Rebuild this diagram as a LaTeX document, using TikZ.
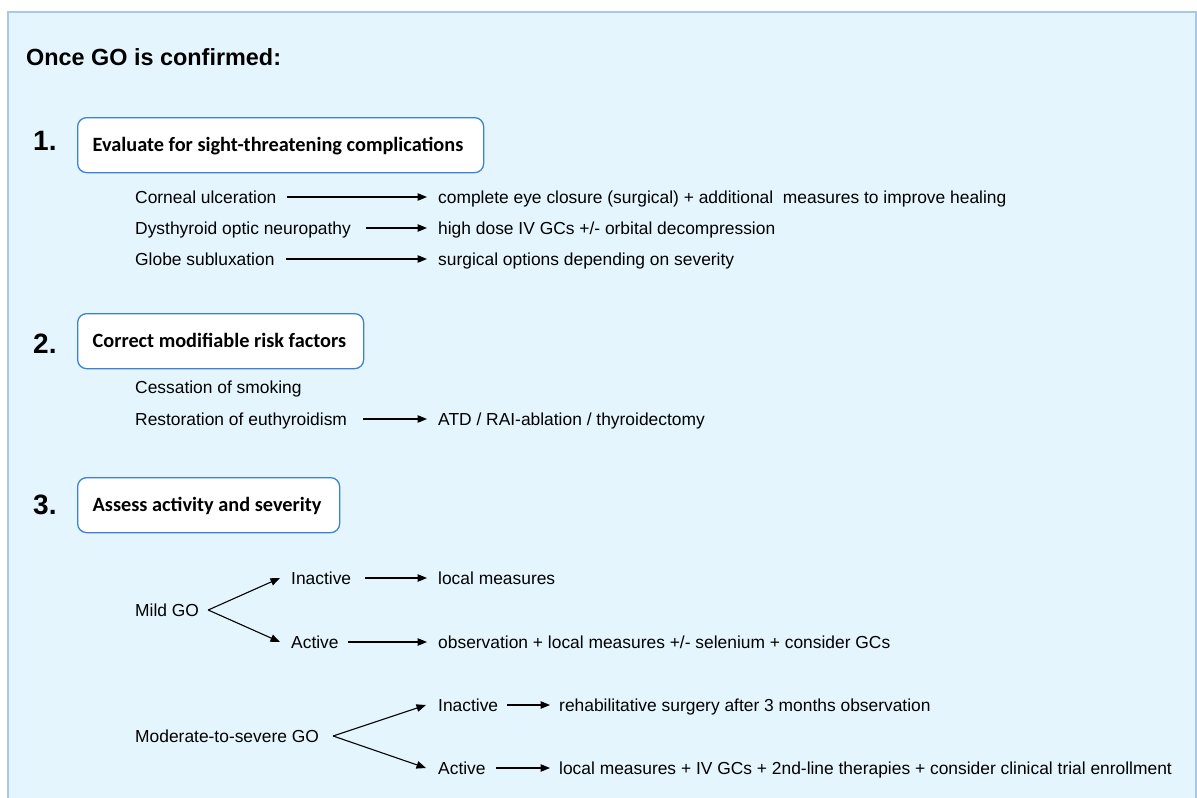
\documentclass[tikz,border=0pt]{standalone}
\usepackage{fontspec}
\setmainfont{Liberation Sans}
\newfontfamily\boxfont{Carlito}
\usetikzlibrary{arrows.meta}
\definecolor{framefill}{HTML}{E5F5FE}
\definecolor{frameline}{HTML}{A8C8EA}
\definecolor{boxline}{HTML}{3B82D4}
\begin{document}
\begin{tikzpicture}[x=1pt,y=-1pt,
  txt/.style={anchor=west,inner sep=0pt,font=\fontsize{17.4}{20}\selectfont,text height=12.5pt,text depth=0pt},
  numlbl/.style={anchor=west,inner sep=0pt,font=\bfseries\fontsize{28}{32}\selectfont,text height=20pt,text depth=0pt},
  stepbox/.style={draw=boxline,line width=1.3pt,fill=white,rounded corners=9pt,minimum height=55pt,anchor=north west,inner xsep=15pt,inner ysep=0pt,text height=13pt,text depth=0pt,font=\boxfont\bfseries\fontsize{20.3}{24}\selectfont},
  arr/.style={-{Triangle[length=9.5pt,width=7.5pt]},line width=1.1pt,black}]
\useasboundingbox (0,0) rectangle (1197,798);
\clip (0,0) rectangle (1197,798);
\fill[white] (0,0) rectangle (1197,798);
\draw[fill=framefill,draw=frameline,line width=2pt] (8,12) rectangle (1196,820);

\node[anchor=base west,inner sep=0pt,font=\bfseries\fontsize{23.4}{28}\selectfont] (title) at (26,65) {Once GO is confirmed:};

% Step 1
\node[numlbl] (n1) at (33,140) {1.};
\node[stepbox] (b1) at (77,117) {\makebox[376pt][l]{Evaluate for sight-threatening complications}};
\node[txt] (c1) at (135,197) {Corneal ulceration};
\node[txt] (r1) at (438,197) {complete eye closure (surgical) + additional\ \ measures to improve healing};
\node[txt] (c2) at (135,228) {Dysthyroid optic neuropathy};
\node[txt] (r2) at (438,228) {high dose IV GCs +/- orbital decompression};
\node[txt] (c3) at (135,259) {Globe subluxation};
\node[txt] (r3) at (438,259) {surgical options depending on severity};
\draw[arr] ([xshift=10pt]c1.east) -- ([xshift=-11pt]r1.west);
\draw[arr] ([xshift=15pt]c2.east) -- ([xshift=-11pt]r2.west);
\draw[arr] ([xshift=11pt]c3.east) -- ([xshift=-11pt]r3.west);

% Step 2
\node[numlbl] (n2) at (33,343) {2.};
\node[stepbox] (b2) at (77,313) {\makebox[256pt][l]{Correct modifiable risk factors}};
\node[txt] (d1) at (135,387) {Cessation of smoking};
\node[txt] (d2) at (135,419) {Restoration of euthyroidism};
\node[txt] (e2) at (438,419) {ATD / RAI-ablation / thyroidectomy};
\draw[arr] ([xshift=16pt]d2.east) -- ([xshift=-11pt]e2.west);

% Step 3
\node[numlbl] (n3) at (33,504) {3.};
\node[stepbox] (b3) at (77,477) {\makebox[232pt][l]{Assess activity and severity}};

\node[txt] (mild) at (135,610) {Mild GO};
\node[txt] (mi) at (291,578) {Inactive};
\node[txt] (ma) at (291,642) {Active};
\node[txt] (mir) at (438,578) {local measures};
\node[txt] (mar) at (438,642) {observation + local measures +/- selenium + consider GCs};
\draw[arr] ([xshift=9pt]mild.east) -- ([xshift=-11pt]mi.west);
\draw[arr] ([xshift=9pt]mild.east) -- ([xshift=-11pt]ma.west);
\draw[arr] ([xshift=14pt]mi.east) -- ([xshift=-11pt]mir.west);
\draw[arr] ([xshift=9pt]ma.east) -- ([xshift=-11pt]mar.west);

\node[txt] (mod) at (135,736) {Moderate-to-severe GO};
\node[txt] (si) at (438,705) {Inactive};
\node[txt] (sa) at (438,768) {Active};
\node[txt] (sir) at (559,705) {rehabilitative surgery after 3 months observation};
\node[txt] (sar) at (559,768) {local measures + IV GCs + 2nd-line therapies + consider clinical trial enrollment};
\draw[arr] ([xshift=14pt]mod.east) -- ([xshift=-12pt]si.west);
\draw[arr] ([xshift=14pt]mod.east) -- ([xshift=-12pt]sa.west);
\draw[arr] ([xshift=9pt]si.east) -- ([xshift=-9pt]sir.west);
\draw[arr] ([xshift=10pt]sa.east) -- ([xshift=-9pt]sar.west);
\end{tikzpicture}
\end{document}
